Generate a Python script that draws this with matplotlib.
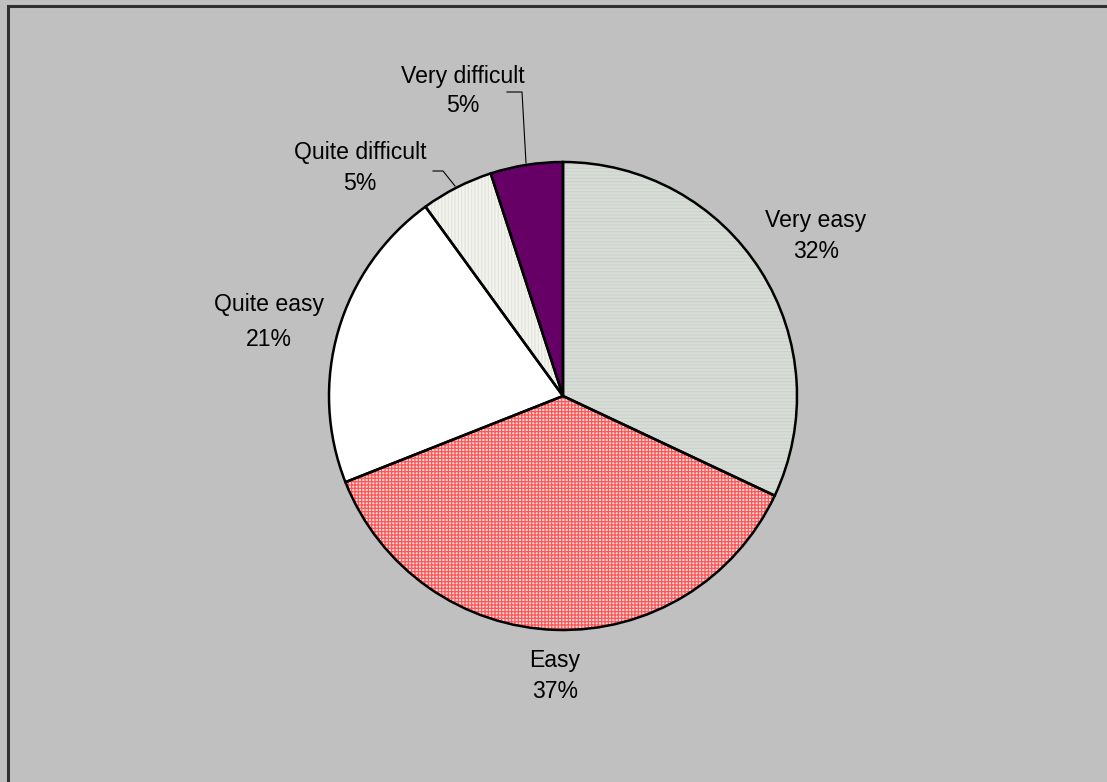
import matplotlib
matplotlib.use("Agg")
import matplotlib.pyplot as plt
from matplotlib.patches import Rectangle

categories = ["Very easy", "Easy", "Quite easy", "Quite difficult", "Very difficult"]
shares = [32, 37, 21, 5, 5]

face_colors = ["#d8ddd7", "#f9dcdc", "#ffffff", "#f4f4ef", "#660066"]
hatch_colors = ["#ccd3cc", "#ff5555", "#ffffff", "#e4e4dc", "#660066"]
hatches = ["-----", "+++++", "", "|||||", ""]

W, H = 1107, 782
plt.rcParams["font.family"] = ["Liberation Sans", "DejaVu Sans"]
plt.rcParams["hatch.linewidth"] = 0.9

fig = plt.figure(figsize=(W / 100, H / 100), dpi=100)
fig.patch.set_facecolor("#c0c0c0")
ax = fig.add_axes([0, 0, 1, 1])

center = (563, H - 396)
radius = 234

# filled, hatched wedges
wedges, _ = ax.pie(shares, startangle=90, counterclock=False,
                   center=center, radius=radius, frame=True,
                   wedgeprops=dict(linewidth=0))
for w, fc, hc, ht in zip(wedges, face_colors, hatch_colors, hatches):
    w.set_facecolor(fc)
    w.set_edgecolor(hc)
    w.set_hatch(ht)
    w.set_linewidth(0)

# black outlines on top
ax.pie(shares, startangle=90, counterclock=False, center=center,
       radius=radius, frame=True,
       wedgeprops=dict(facecolor="none", edgecolor="black", linewidth=1.8))

ax.set_xlim(0, W)
ax.set_ylim(0, H)
ax.set_aspect("equal")
ax.axis("off")

# frame around the chart area
ax.add_patch(Rectangle((7.5, -20), W + 50, H - 5.5 + 20, fill=False,
                       edgecolor="#303030", linewidth=2.2))

# label anchors: (x, y of name line, y of percent line), top-down pixels
label_pos = [(816, 220, 252), (555, 660, 691), (269, 305, 339),
             (360, 152, 184), (463, 76, 106)]
for cat, val, (x, y1, y2) in zip(categories, shares, label_pos):
    ax.text(x, H - y1, cat, ha="center", va="center", fontsize=16.6)
    ax.text(x, H - y2, f"{val}%", ha="center", va="center", fontsize=16.6)

# leader lines for the small slices
ax.plot([433, 443, 455], [H - 171, H - 171, H - 186], color="black", lw=0.8)
ax.plot([507, 522, 526], [H - 92, H - 92, H - 163], color="black", lw=0.8)

fig.savefig("out.png", dpi=100, facecolor=fig.get_facecolor())
